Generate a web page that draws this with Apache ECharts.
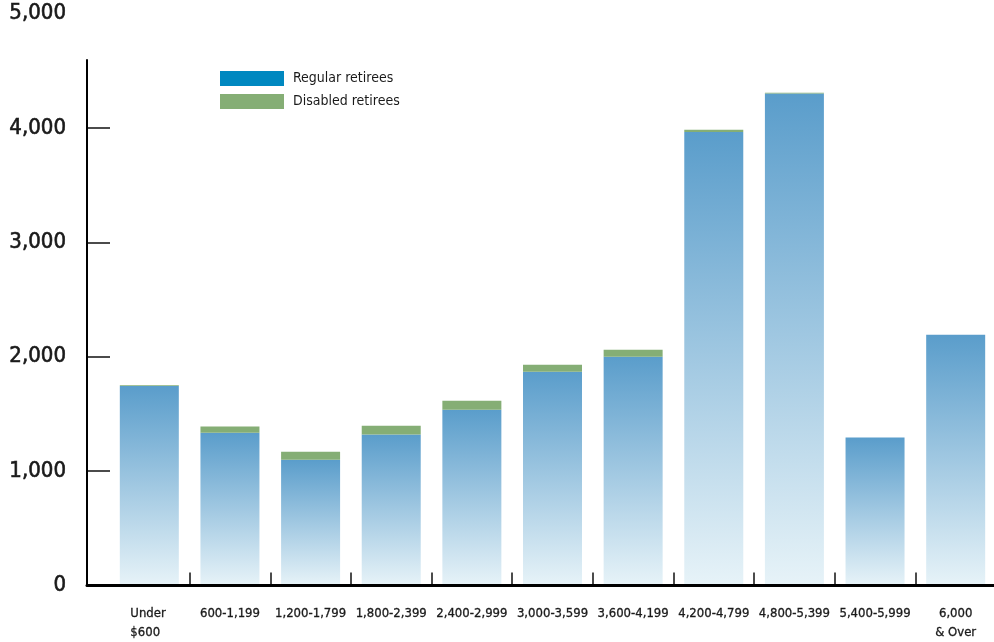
<!DOCTYPE html>
<html>
<head>
<meta charset="utf-8">
<script src="https://cdn.jsdelivr.net/npm/echarts@6/dist/echarts.min.js"></script>
<style>
  html, body { margin: 0; padding: 0; background: #ffffff; }
  #chart { width: 994px; height: 642px; }
</style>
</head>
<body>
<div id="chart"></div>
<script>
// Monthly benefit ranges (dollars)
const categories = [
  'Under\n$600', '600-1,199', '1,200-1,799', '1,800-2,399', '2,400-2,999',
  '3,000-3,599', '3,600-4,199', '4,200-4,799', '4,800-5,399', '5,400-5,999', '6,000\n& Over'
];
// Number of retirees in each range
const regularRetirees  = [1743, 1336, 1100, 1319, 1537, 1869, 2000, 3965, 4300, 1293, 2192];
const disabledRetirees = [8, 53, 70, 78, 79, 61, 61, 18, 8, 0, 0];
const seriesNames = ['Regular retirees', 'Disabled retirees'];
const yTickValues = [1000, 2000, 3000, 4000];

const FONT = '"DejaVu Sans Condensed", "Liberation Sans Narrow", "Liberation Sans", sans-serif';
const INK = '#1a1a1a';

const chart = echarts.init(document.getElementById('chart'), null, { renderer: 'canvas' });

const blueFade = new echarts.graphic.LinearGradient(0, 0, 0, 1, [
  { offset: 0, color: '#5a9dcb' },
  { offset: 1, color: '#e7f3f8' }
]);

chart.setOption({
  animation: false,
  backgroundColor: '#ffffff',
  legend: {
    orient: 'vertical',
    left: 215,
    top: 66,
    itemWidth: 64,
    itemHeight: 15,
    itemGap: 8,
    icon: 'rect',
    textStyle: { fontFamily: FONT, fontSize: 14, color: INK, padding: [0, 0, 0, 4] },
    data: [
      { name: seriesNames[0], itemStyle: { color: '#0088c0' } },
      { name: seriesNames[1], itemStyle: { color: '#85ae75' } }
    ]
  },
  grid: [
    { left: 109, width: 887, top: 13.5, bottom: 56.5, containLabel: false, outerBoundsMode: 'none' },
    { left: 87, right: 0, top: 60, bottom: 56.5, containLabel: false, outerBoundsMode: 'none' }
  ],
  xAxis: [
    {
      type: 'category',
      gridIndex: 0,
      data: categories,
      boundaryGap: true,
      axisLine: { show: false },
      axisTick: {
        show: true,
        inside: true,
        length: 13,
        // no divider before the first range, next to the value axis
        interval: function (index) { return index !== 0; },
        lineStyle: { color: '#111', width: 1.5 }
      },
      axisLabel: {
        interval: 0,
        margin: 19,
        fontFamily: FONT,
        fontSize: 13,
        lineHeight: 19,
        color: INK,
        textBorderColor: INK,
        textBorderWidth: 0.3,
        formatter: function (value) {
          if (value.indexOf('Under') === 0) {
            return '{l|' + value.split('\n').join('}\n{l|') + '}';
          }
          return value;
        },
        rich: {
          l: {
            width: 38, align: 'left', fontFamily: FONT, fontSize: 13, lineHeight: 19,
            color: INK, textBorderColor: INK, textBorderWidth: 0.3
          }
        }
      },
      splitLine: { show: false }
    },
    {
      type: 'category',
      gridIndex: 1,
      data: categories,
      z: 10,
      axisLine: { show: true, lineStyle: { color: '#000', width: 3 } },
      axisTick: { show: false },
      axisLabel: { show: false },
      splitLine: { show: false }
    }
  ],
  yAxis: [
    {
      type: 'value',
      gridIndex: 0,
      min: 0,
      max: 5000,
      interval: 1000,
      offset: 22,
      axisLine: { show: false },
      axisTick: {
        show: true,
        inside: true,
        length: 23,
        customValues: yTickValues,
        lineStyle: { color: '#111', width: 1.5 }
      },
      axisLabel: {
        margin: 21,
        fontFamily: FONT,
        fontSize: 22,
        color: INK,
        textBorderColor: INK,
        textBorderWidth: 0.6,
        formatter: function (v) { return v.toLocaleString('en-US'); }
      },
      splitLine: { show: false }
    },
    {
      type: 'value',
      gridIndex: 1,
      z: 10,
      axisLine: { show: true, lineStyle: { color: '#000', width: 2 } },
      axisTick: { show: false },
      axisLabel: { show: false },
      splitLine: { show: false }
    }
  ],
  series: [
    {
      name: seriesNames[0],
      type: 'bar',
      stack: 'retirees',
      xAxisIndex: 0,
      yAxisIndex: 0,
      barWidth: 59,
      itemStyle: { color: blueFade },
      data: regularRetirees
    },
    {
      name: seriesNames[1],
      type: 'bar',
      stack: 'retirees',
      xAxisIndex: 0,
      yAxisIndex: 0,
      barWidth: 59,
      itemStyle: { color: '#85ae75' },
      data: disabledRetirees
    }
  ]
});
</script>
</body>
</html>
